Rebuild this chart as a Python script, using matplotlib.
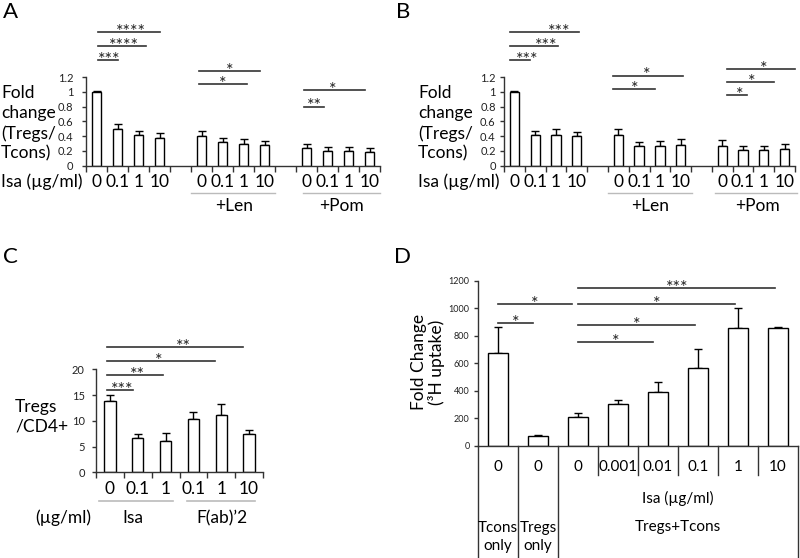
import numpy as np
import matplotlib
matplotlib.use('Agg')
import matplotlib.pyplot as plt

plt.rcParams['font.family'] = ['Lato', 'DejaVu Sans']

W, H = 800, 558

# panel A / B : Tregs/Tcons fold change
ab_pos = [0, 1, 2, 3, 5, 6, 7, 8, 10, 11, 12, 13]
ab_ticklabels = ['0', '0.1', '1', '10'] * 3
a_mean = [1.0, 0.49, 0.41, 0.37, 0.40, 0.315, 0.30, 0.28, 0.235, 0.20, 0.20, 0.19]
a_err = [0.005, 0.07, 0.06, 0.07, 0.07, 0.065, 0.06, 0.06, 0.06, 0.05, 0.05, 0.045]
b_mean = [1.0, 0.41, 0.42, 0.40, 0.41, 0.27, 0.27, 0.28, 0.27, 0.21, 0.21, 0.22]
b_err = [0.005, 0.06, 0.07, 0.06, 0.09, 0.05, 0.06, 0.08, 0.08, 0.06, 0.06, 0.07]
ab_yticks = [0, 0.2, 0.4, 0.6, 0.8, 1.0, 1.2]
ab_yticklabels = ['0', '0.2', '0.4', '0.6', '0.8', '1', '1.2']
# (x1, x2, y, stars, text x)
a_sig = [(0.06, 1.02, 1.425, '***', 0.62), (0.06, 2.37, 1.62, '****', 1.33),
         (0.06, 3.0, 1.81, '****', 1.65), (4.9, 7.16, 1.10, '*', 6.0),
         (4.9, 7.8, 1.28, '*', 6.33), (9.87, 10.83, 0.80, '**', 10.38),
         (9.87, 12.8, 1.02, '*', 11.25)]
b_sig = [(-0.2, 0.75, 1.425, '***', 0.62), (-0.2, 2.1, 1.62, '***', 1.55),
         (-0.2, 3.1, 1.81, '***', 2.16), (4.76, 6.76, 1.04, '*', 5.8),
         (4.76, 8.1, 1.22, '*', 6.36), (10.24, 11.2, 0.95, '*', 10.85),
         (10.24, 12.5, 1.13, '*', 11.44), (10.24, 13.5, 1.31, '*', 12.0)]

# panel C : Tregs/CD4+
c_ticklabels = ['0', '0.1', '1', '0.1', '1', '10']
c_mean = [13.9, 6.6, 6.1, 10.4, 11.1, 7.5]
c_err = [1.1, 0.8, 1.5, 1.25, 2.1, 0.7]
c_sig = [(-0.1, 0.82, 16.0, '***', 0.45), (-0.1, 1.9, 18.9, '**', 0.98),
         (-0.1, 3.78, 21.6, '*', 1.74), (-0.1, 4.77, 24.4, '**', 2.64)]

# panel D : 3H uptake
d_ticklabels = ['0', '0', '0', '0.001', '0.01', '0.1', '1', '10']
d_mean = [672, 70, 211, 303, 393, 563, 854, 854]
d_err = [190, 5, 24, 30, 73, 141, 146, 8]
d_sig = [(0, 0.875, 891, '*', 0.44), (0, 1.85, 1031, '*', 0.92),
         (2.0, 3.87, 757, '*', 2.94), (2.0, 4.92, 879, '*', 3.46),
         (2.0, 5.92, 1031, '*', 3.96), (2.0, 6.93, 1150, '***', 4.47)]

LC = '#333333'
FS = 12.5

fig = plt.figure(figsize=(W / 100, H / 100), dpi=100)


def rect(x0, y0, x1, y1):
    return [x0 / W, 1 - y1 / H, (x1 - x0) / W, (y1 - y0) / H]


def ftext(x, y, s, **kw):
    fig.text(x / W, 1 - y / H, s, **kw)


def style(ax, ylabsize, pad):
    for s in ['top', 'right']:
        ax.spines[s].set_visible(False)
    for s in ['left', 'bottom']:
        ax.spines[s].set_color(LC)
        ax.spines[s].set_linewidth(1)
    ax.tick_params(axis='y', length=3, width=1, color=LC, labelsize=ylabsize,
                   pad=pad, labelcolor='#222222')
    ax.tick_params(axis='x', length=4, width=1, color=LC, labelbottom=False)


def bars(ax, pos, mean, err, width):
    ax.bar(pos, mean, width, color='white', edgecolor='black', linewidth=1, zorder=2)
    ax.errorbar(pos, mean, yerr=[np.zeros(len(err)), err], fmt='none',
                ecolor='black', elinewidth=1, capsize=3, capthick=1, zorder=1)


def sig(ax, items, fs=13):
    for x1, x2, y, s, tx in items:
        ax.plot([x1, x2], [y, y], color=LC, lw=1.2, clip_on=False)
        ax.annotate(s, (tx, y), xytext=(0, -3.5), textcoords='offset points',
                    ha='center', va='baseline', fontsize=fs, color='#222222',
                    annotation_clip=False)


def cat_labels(ax, pos, labels, yfrac, fs):
    tr = ax.get_xaxis_transform()
    for p, l in zip(pos, labels):
        ax.text(p, yfrac, l, transform=tr, ha='center', va='center', fontsize=fs)


def panel_ab(x0, x1, mean, err, sigs, pad, len_span, pom_span, len_x, pom_x, lx, letter, letx):
    ax = fig.add_axes(rect(x0, 77, x1, 165.7))
    bars(ax, ab_pos, mean, err, 0.45)
    ax.set_xlim(-0.5, 13.5)
    ax.set_ylim(0, 1.2)
    ax.set_yticks(ab_yticks)
    ax.set_yticklabels(ab_yticklabels)
    ax.set_xticks(np.arange(-0.5, 14, 1))
    style(ax, 8, pad)
    sig(ax, sigs)
    tr = ax.get_xaxis_transform()
    cat_labels(ax, ab_pos, ab_ticklabels, -0.184, FS)
    for span in (len_span, pom_span):
        ax.plot(span, [-0.308, -0.308], transform=tr, color='#bbbbbb', lw=1, clip_on=False)
    ax.text(len_x, -0.457, '+Len', transform=tr, ha='center', va='center', fontsize=FS)
    ax.text(pom_x, -0.457, '+Pom', transform=tr, ha='center', va='center', fontsize=FS)
    ftext(lx, 123.5, 'Fold\nchange\n(Tregs/\nTcons)', ha='left', va='center',
          fontsize=FS, linespacing=1.3)
    ftext(lx, 182, 'Isa (µg/ml)', ha='left', va='center', fontsize=FS)
    ftext(letx, 12.5, letter, ha='left', va='center', fontsize=16)
    return ax


panel_ab(86, 380, a_mean, a_err, a_sig, 6, [4.5, 8.48], [9.83, 13.5], 6.57, 11.65, 1, 'A', 3)
panel_ab(504, 795, b_mean, b_err, b_sig, 3, [4.5, 8.54], [9.64, 13.6], 6.52, 11.7, 418, 'B', 396)

# panel C
axc = fig.add_axes(rect(96, 369.3, 263, 472.3))
bars(axc, range(6), c_mean, c_err, 0.41)
axc.set_xlim(-0.5, 5.5)
axc.set_ylim(0, 20)
axc.set_yticks([0, 5, 10, 15, 20])
axc.set_xticks(np.arange(-0.5, 6, 1))
style(axc, 8, 5)
sig(axc, c_sig)
cat_labels(axc, range(6), c_ticklabels, -0.162, FS)
trc = axc.get_xaxis_transform()
for span in ([-0.39, 2.27], [2.77, 5.22]):
    axc.plot(span, [-0.276, -0.276], transform=trc, color='#bbbbbb', lw=1.2, clip_on=False)
axc.text(0.83, -0.444, 'Isa', transform=trc, ha='center', va='center', fontsize=FS)
axc.text(4.03, -0.444, 'F(ab)’2', transform=trc, ha='center', va='center', fontsize=FS)
ftext(63, 518, '(µg/ml)', ha='center', va='center', fontsize=FS)
ftext(15, 417, 'Tregs\n/CD4+', ha='left', va='center', fontsize=FS, linespacing=1.3)
ftext(3, 257, 'C', ha='left', va='center', fontsize=16)

# panel D
axd = fig.add_axes(rect(478, 280.8, 798, 445.7))
bars(axd, range(8), d_mean, d_err, 0.5)
axd.set_xlim(-0.5, 7.5)
axd.set_ylim(0, 1200)
axd.set_yticks(range(0, 1201, 200))
axd.set_xticks([])
style(axd, 6.5, 3)
sig(axd, d_sig)
trd = axd.get_xaxis_transform()
cat_labels(axd, range(8), d_ticklabels, -0.13, 11)
for xb in [-0.5, 0.5, 1.5, 7.5]:
    axd.plot([xb, xb], [0, -0.681], transform=trd, color=LC, lw=1, clip_on=False)
for xb in [2.5, 3.5, 4.5, 5.5, 6.5]:
    axd.plot([xb, xb], [0, -0.178], transform=trd, color=LC, lw=1, clip_on=False)
axd.text(4.5, -0.323, 'Isa (µg/ml)', transform=trd, ha='center', va='center', fontsize=11)
axd.text(4.5, -0.493, 'Tregs+Tcons', transform=trd, ha='center', va='center', fontsize=11)
axd.text(0, -0.553, 'Tcons\nonly', transform=trd, ha='center', va='center', fontsize=11, linespacing=1.3)
axd.text(1, -0.553, 'Tregs\nonly', transform=trd, ha='center', va='center', fontsize=11, linespacing=1.3)
ftext(428, 362, 'Fold Change\n(³H uptake)', ha='center', va='center', fontsize=12.5,
      rotation=90, linespacing=1.1)
ftext(394, 257, 'D', ha='left', va='center', fontsize=16)

fig.savefig('out.png', dpi=100, facecolor='white')
